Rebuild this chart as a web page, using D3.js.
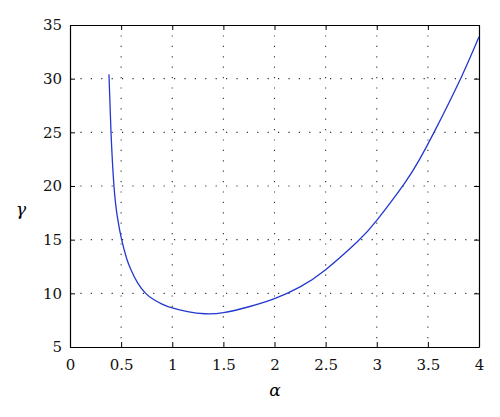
<!DOCTYPE html>
<html>
<head>
<meta charset="utf-8">
<script src="https://cdn.jsdelivr.net/npm/d3@7"></script>
<style>
  body { margin: 0; background: #fff; }
</style>
</head>
<body>
<svg id="chart" width="500" height="417"></svg>
<script>
// values
const alphaVals = [0.381, 0.401, 0.430, 0.462, 0.505, 0.554, 0.596, 0.66, 0.74, 0.814, 0.9, 1.0, 1.15, 1.32, 1.5, 1.75, 2.0, 2.25, 2.5, 2.81, 3.0, 3.275, 3.42, 3.56, 3.82, 4.0];
const gammaVals = [30.4, 25, 20, 17.2, 15, 13.25, 12.2, 11.0, 10, 9.45, 9.0, 8.64, 8.3, 8.1, 8.2, 8.75, 9.5, 10.6, 12.2, 14.8, 16.8, 20.3, 22.5, 25, 30, 33.9];
const xTicks = [0, 0.5, 1, 1.5, 2, 2.5, 3, 3.5, 4];
const yTicks = [5, 10, 15, 20, 25, 30, 35];

const serif = '"DejaVu Serif", "Liberation Serif", serif';
const svg = d3.select("#chart");
const m = { left: 70, right: 21, top: 25, bottom: 70 };
const W = 500, H = 417;

const x = d3.scaleLinear().domain([0, 4]).range([m.left, W - m.right]);
const y = d3.scaleLinear().domain([5, 35]).range([H - m.bottom, m.top]);

// grid
const grid = svg.append("g").attr("stroke", "#333").attr("stroke-width", 1.1)
    .attr("stroke-dasharray", "1.2,9.2");
grid.selectAll(".vx").data(xTicks.slice(1, -1)).enter().append("line")
    .attr("x1", d => x(d)).attr("x2", d => x(d))
    .attr("y1", y(35)).attr("y2", y(5));
grid.selectAll(".hy").data(yTicks.slice(1, -1)).enter().append("line")
    .attr("y1", d => y(d)).attr("y2", d => y(d))
    .attr("x1", x(0)).attr("x2", x(4));

// axes with inward ticks
const fmt = d => d3.format("")(d);
const axB = svg.append("g").attr("transform", `translate(0,${y(5)})`)
    .call(d3.axisBottom(x).tickValues(xTicks).tickSizeInner(-5).tickSizeOuter(0).tickPadding(12).tickFormat(fmt));
const axL = svg.append("g").attr("transform", `translate(${x(0)},0)`)
    .call(d3.axisLeft(y).tickValues(yTicks).tickSizeInner(-5).tickSizeOuter(0).tickPadding(8).tickFormat(fmt));
const axT = svg.append("g").attr("transform", `translate(0,${y(35)})`)
    .call(d3.axisTop(x).tickValues(xTicks).tickSizeInner(-5).tickSizeOuter(0).tickFormat(""));
const axR = svg.append("g").attr("transform", `translate(${x(4)},0)`)
    .call(d3.axisRight(y).tickValues(yTicks).tickSizeInner(-5).tickSizeOuter(0).tickFormat(""));

[axB, axL, axT, axR].forEach(g => {
    g.attr("font-family", null).attr("font-size", null);
    g.select(".domain").attr("stroke", "#000").attr("stroke-width", 1.2);
    g.selectAll(".tick line").attr("stroke", "#000");
    g.selectAll("text").style("font-family", serif).style("font-size", "15px").attr("fill", "#111");
});

// curve
const pts = alphaVals.map((a, i) => [a, gammaVals[i]]);
svg.append("path").datum(pts)
    .attr("fill", "none").attr("stroke", "#2238d0").attr("stroke-width", 1.3)
    .attr("d", d3.line().x(d => x(d[0])).y(d => y(d[1])).curve(d3.curveNatural));

// axis labels
svg.append("text").attr("x", 275).attr("y", 396).attr("text-anchor", "middle")
    .style("font-family", serif).style("font-size", "17px").attr("font-style", "italic").text("α");
svg.append("text").attr("x", 21).attr("y", 215).attr("text-anchor", "middle")
    .style("font-family", serif).style("font-size", "17px").attr("font-style", "italic").text("γ");
</script>
</body>
</html>
